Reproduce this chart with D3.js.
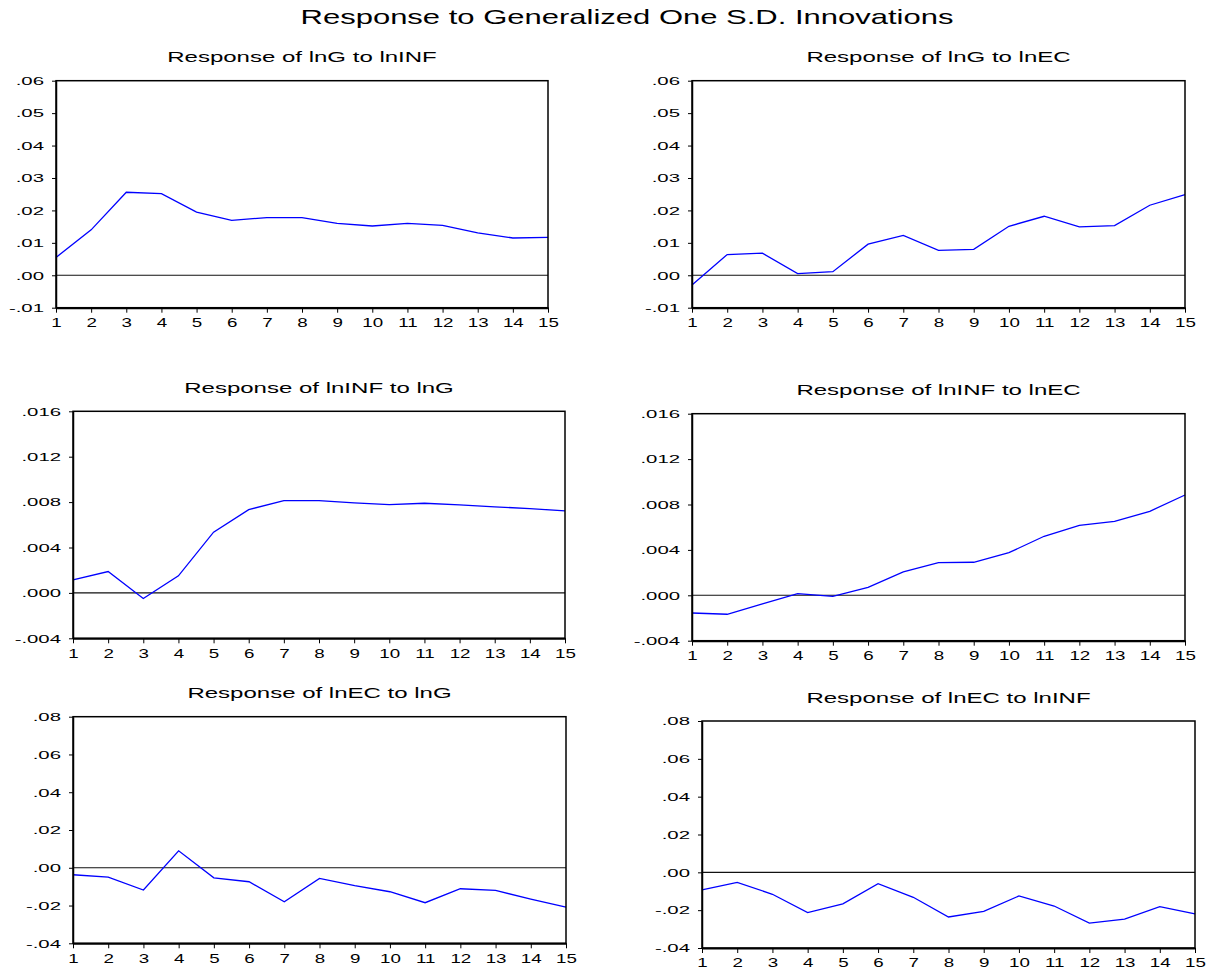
<!DOCTYPE html>
<html>
<head>
<meta charset="utf-8">
<script src="https://cdn.jsdelivr.net/npm/d3@7"></script>
<style>
  html, body { margin: 0; padding: 0; background: #fff; }
  svg { display: block; }
  text { font-family: "Liberation Sans", Arial, sans-serif; fill: #000; }
</style>
</head>
<body>
<script>
// Horizons of the impulse responses
const periods = [1, 2, 3, 4, 5, 6, 7, 8, 9, 10, 11, 12, 13, 14, 15];

// Responses (generalized one S.D. innovations)
const lnG_to_lnINF   = [0.0055, 0.0140, 0.0256, 0.0252, 0.0195, 0.0169, 0.0178, 0.0178, 0.0160, 0.0152, 0.0160, 0.0154, 0.0131, 0.0115, 0.0117];
const lnG_to_lnEC    = [-0.0030, 0.0064, 0.0068, 0.0005, 0.0011, 0.0096, 0.0123, 0.0077, 0.0080, 0.0151, 0.0182, 0.0149, 0.0153, 0.0216, 0.0249];
const lnINF_to_lnG   = [0.00115, 0.00188, -0.0005, 0.0015, 0.00535, 0.00734, 0.00813, 0.00813, 0.00793, 0.00778, 0.0079, 0.00775, 0.00758, 0.00743, 0.00722];
const lnINF_to_lnEC  = [-0.00156, -0.00167, -0.00076, 0.00015, -0.00009, 0.0007, 0.00206, 0.00288, 0.00291, 0.00376, 0.0052, 0.00617, 0.00652, 0.0074, 0.00884];
const lnEC_to_lnG    = [-0.0037, -0.0049, -0.0118, 0.0090, -0.0053, -0.0074, -0.0180, -0.0056, -0.0094, -0.0127, -0.0185, -0.0111, -0.0120, -0.0166, -0.0208];
const lnEC_to_lnINF  = [-0.0093, -0.0053, -0.0116, -0.0213, -0.0167, -0.0060, -0.0132, -0.0236, -0.0206, -0.0125, -0.0178, -0.0268, -0.0247, -0.0181, -0.0220];

// Y tick values and their labels per response variable
const ticksG      = [-0.01, 0.00, 0.01, 0.02, 0.03, 0.04, 0.05, 0.06];
const tickLabelsG = ["-.01", ".00", ".01", ".02", ".03", ".04", ".05", ".06"];
const ticksINF      = [-0.004, 0.000, 0.004, 0.008, 0.012, 0.016];
const tickLabelsINF = ["-.004", ".000", ".004", ".008", ".012", ".016"];
const ticksEC      = [-0.04, -0.02, 0.00, 0.02, 0.04, 0.06, 0.08];
const tickLabelsEC = ["-.04", "-.02", ".00", ".02", ".04", ".06", ".08"];

const mainTitle = "Response to Generalized One S.D. Innovations";
const panelTitles = [
  "Response of lnG to lnINF", "Response of lnG to lnEC",
  "Response of lnINF to lnG", "Response of lnINF to lnEC",
  "Response of lnEC to lnG", "Response of lnEC to lnINF"
];

// Panel frames (plot-area boxes) on the page
const panels = [
  { box: [56, 80.7, 548, 307.7],   series: lnG_to_lnINF,  ticks: ticksG,   labels: tickLabelsG },
  { box: [692, 80.7, 1185, 307.7], series: lnG_to_lnEC,   ticks: ticksG,   labels: tickLabelsG },
  { box: [73, 411.3, 565, 638.3],  series: lnINF_to_lnG,  ticks: ticksINF, labels: tickLabelsINF },
  { box: [692, 413.7, 1185, 640.7],series: lnINF_to_lnEC, ticks: ticksINF, labels: tickLabelsINF },
  { box: [73, 716.7, 566, 943.3],  series: lnEC_to_lnG,   ticks: ticksEC,  labels: tickLabelsEC },
  { box: [702, 721, 1195, 948],    series: lnEC_to_lnINF, ticks: ticksEC,  labels: tickLabelsEC }
];

const W = 1212, H = 971;
const SX = 1.55;          // horizontal widening of the title lettering
const SX_Y = 1.85;        // widening of the value labels
const SX_X = 1.5;         // widening of the period labels
const svg = d3.select("body").append("svg").attr("width", W).attr("height", H);

function wideText(parent, x, y, str, size, anchor, sx) {
  return parent.append("text")
    .attr("transform", `translate(${x},${y}) scale(${sx},1)`)
    .attr("text-anchor", anchor)
    .style("font-size", size + "px")
    .text(str);
}

wideText(svg, 627, 24, mainTitle, 20, "middle", SX);

panels.forEach((p, i) => {
  const [x0, y0, x1, y1] = p.box;
  const g = svg.append("g");
  const x = d3.scaleLinear().domain([1, 15]).range([x0, x1]);
  const y = d3.scaleLinear().domain([p.ticks[0], p.ticks[p.ticks.length - 1]]).range([y1, y0]);

  wideText(g, (x0 + x1) / 2, y0 - 18.5, panelTitles[i], 15.5, "middle", SX);

  // zero reference line
  g.append("line")
    .attr("x1", x0).attr("x2", x1)
    .attr("y1", y(0)).attr("y2", y(0))
    .attr("stroke", "#111").attr("stroke-width", 1.1);

  // response path
  const line = d3.line().x((d, k) => x(periods[k])).y(d => y(d));
  g.append("path")
    .datum(p.series)
    .attr("d", line)
    .attr("fill", "none")
    .attr("stroke", "#0000ff")
    .attr("stroke-width", 1.3);

  // frame
  g.append("rect")
    .attr("x", x0).attr("y", y0)
    .attr("width", x1 - x0).attr("height", y1 - y0)
    .attr("fill", "none").attr("stroke", "#000").attr("stroke-width", 1.5);

  // left axis
  const yAxis = d3.axisLeft(y).tickValues(p.ticks)
    .tickFormat((d, k) => p.labels[k]).tickSize(4).tickSizeOuter(0);
  const ya = g.append("g").attr("transform", `translate(${x0},0)`).call(yAxis);
  ya.select(".domain").attr("stroke", "#000").attr("stroke-width", 1.5);
  ya.selectAll(".tick line").attr("stroke", "#000").attr("stroke-width", 1);
  ya.selectAll(".tick text")
    .attr("x", null).attr("dy", null)
    .attr("transform", `translate(-12,3.8) scale(${SX_Y},1)`)
    .style("font-size", "11px").style("font-family", null);

  // bottom axis
  const xAxis = d3.axisBottom(x).tickValues(periods)
    .tickFormat(d3.format("d")).tickSize(5).tickSizeOuter(0);
  const xa = g.append("g").attr("transform", `translate(0,${y1})`).call(xAxis);
  xa.select(".domain").attr("stroke", "#000").attr("stroke-width", 2);
  xa.selectAll(".tick line").attr("stroke", "#000").attr("stroke-width", 1);
  xa.selectAll(".tick text")
    .attr("y", null).attr("dy", null)
    .attr("transform", `translate(0,19.3) scale(${SX_X},1)`)
    .style("font-size", "12.5px").style("font-family", null);
});
</script>
</body>
</html>
